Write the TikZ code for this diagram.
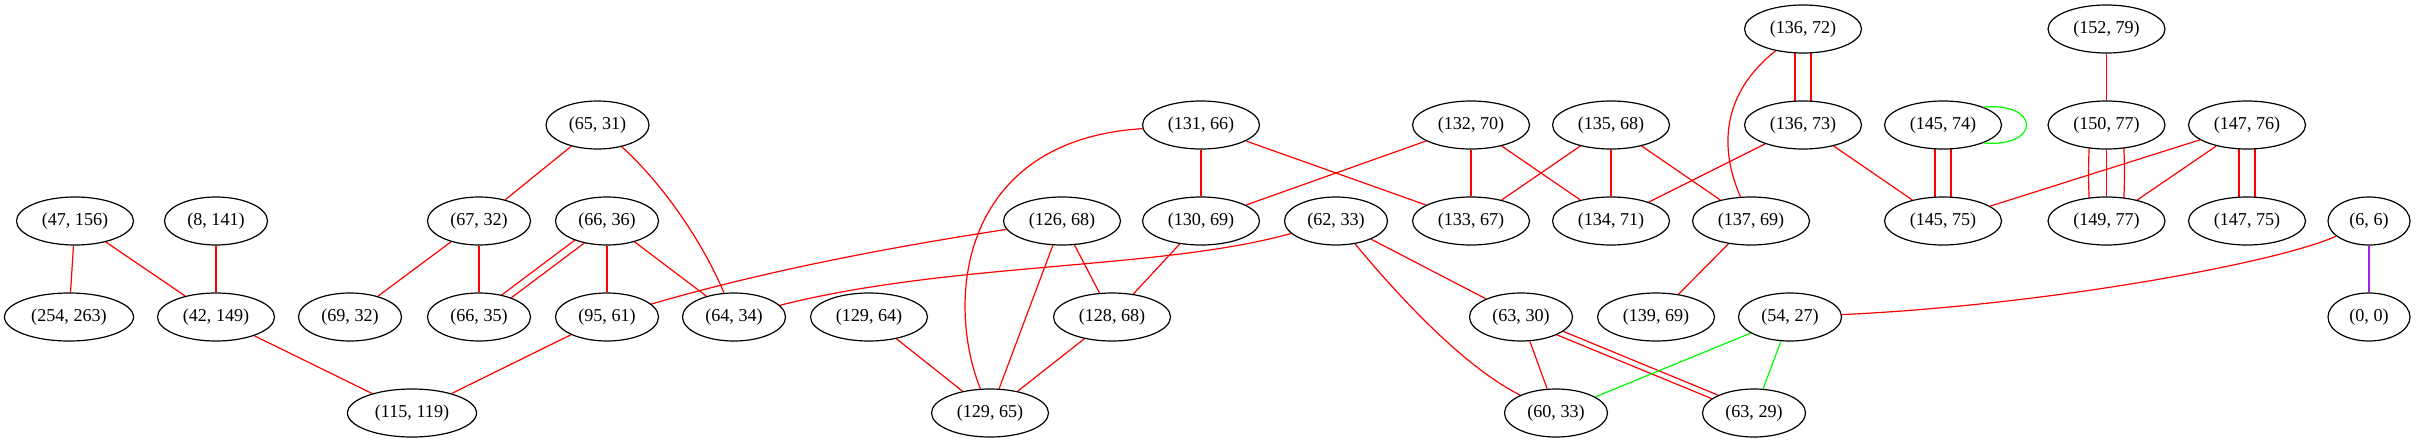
\documentclass[tikz,border=0pt]{standalone}
\usepackage{fontspec}
\setmainfont{Liberation Serif}
\usetikzlibrary{shapes.geometric,backgrounds}
\definecolor{egreen}{RGB}{0,255,0}
\definecolor{epurple}{RGB}{160,32,240}
\begin{document}
\begin{tikzpicture}[x=0.75pt,y=-0.75pt,
  nd/.style={ellipse,draw=black,line width=0.9pt,fill=white,inner sep=0pt,
    minimum height=36pt,minimum width=77.25pt,font=\fontsize{13.6pt}{16pt}\selectfont},
  wA/.style={minimum width=61.5pt},
  wB/.style={minimum width=77.25pt},
  wC/.style={minimum width=87.75pt},
  wD/.style={minimum width=96.75pt},
  ed/.style={draw=red,line width=0.9pt},
  edg/.style={draw=egreen,line width=0.9pt},
  edp/.style={draw=epurple,line width=0.9pt}]
\useasboundingbox (0,0) rectangle (2416,443);
% row 1
\node[nd,wC] (a13672) at (1803,29) {(136, 72)};
\node[nd,wC] (a15279) at (2106.5,29) {(152, 79)};
% row 2
\node[nd,wB] (a6531) at (597.5,125) {(65, 31)};
\node[nd,wC] (a13166) at (1201,125) {(131, 66)};
\node[nd,wC] (a13270) at (1471,125) {(132, 70)};
\node[nd,wC] (a13568) at (1611,125) {(135, 68)};
\node[nd,wC] (a13673) at (1803,125) {(136, 73)};
\node[nd,wC] (a14574) at (1943,125) {(145, 74)};
\node[nd,wC] (a15077) at (2106.5,125) {(150, 77)};
\node[nd,wC] (a14776) at (2247,125) {(147, 76)};
% row 3
\node[nd,wC] (a47156) at (75,221) {(47, 156)};
\node[nd,wB] (a8141) at (216,221) {(8, 141)};
\node[nd,wB] (a6732) at (479,221) {(67, 32)};
\node[nd,wB] (a6636) at (607,221) {(66, 36)};
\node[nd,wC] (a12668) at (1062,221) {(126, 68)};
\node[nd,wC] (a13069) at (1201,221) {(130, 69)};
\node[nd,wB] (a6233) at (1336,221) {(62, 33)};
\node[nd,wC] (a13367) at (1471,221) {(133, 67)};
\node[nd,wC] (a13471) at (1611,221) {(134, 71)};
\node[nd,wC] (a13769) at (1751,221) {(137, 69)};
\node[nd,wC] (a14575) at (1943,221) {(145, 75)};
\node[nd,wC] (a14977) at (2106.5,221) {(149, 77)};
\node[nd,wC] (a14775) at (2247,221) {(147, 75)};
\node[nd,wA] (a66) at (2369,221) {(6, 6)};
% row 4
\node[nd,wD] (a254263) at (69,317) {(254, 263)};
\node[nd,wC] (a42149) at (216,317) {(42, 149)};
\node[nd,wB] (a6932) at (350,317) {(69, 32)};
\node[nd,wB] (a6635) at (479,317) {(66, 35)};
\node[nd,wB] (a9561) at (607,317) {(95, 61)};
\node[nd,wB] (a6434) at (734,317) {(64, 34)};
\node[nd,wC] (a12964) at (869,317) {(129, 64)};
\node[nd,wC] (a12868) at (1112,317) {(128, 68)};
\node[nd,wB] (a6330) at (1521,317) {(63, 30)};
\node[nd,wC] (a13969) at (1656,317) {(139, 69)};
\node[nd,wB] (a5427) at (1790,317) {(54, 27)};
\node[nd,wA] (a00) at (2369,317) {(0, 0)};
% row 5
\node[nd,wD] (a115119) at (412,413) {(115, 119)};
\node[nd,wC] (a12965) at (990,413) {(129, 65)};
\node[nd,wB] (a6033) at (1556,413) {(60, 33)};
\node[nd,wB] (a6329) at (1754,413) {(63, 29)};

\begin{pgfonlayer}{background}
\draw[ed] (a47156) -- (a254263);
\draw[ed] (a47156) -- (a42149);
\draw[ed] (a8141) -- (a42149);
\draw[ed] (a42149) -- (a115119);
\draw[ed] (a9561) -- (a115119);
\draw[ed] (a6531) -- (a6732);
\draw[ed] (a6531) .. controls (662.6,183.5) and (703,242.6) .. (a6434);
\draw[ed] (a6732) -- (a6932);
\draw[ed] (a6732) -- (a6635);
\draw[ed] ([shift={(2.4,3.2)}]a6636.center) -- ([shift={(2.4,3.2)}]a6635.center);
\draw[ed] ([shift={(-2.4,-3.2)}]a6636.center) -- ([shift={(-2.4,-3.2)}]a6635.center);
\draw[ed] (a6636) -- (a9561);
\draw[ed] (a6636) -- (a6434);
\draw[ed] (a9561) .. controls (761,272) and (887,247.5) .. (a12668);
\draw[ed] (a6233) .. controls (1160,270) and (950,262) .. (a6434);
\draw[ed] (a12668) -- (a12965);
\draw[ed] (a12668) -- (a12868);
\draw[ed] (a13069) -- (a12868);
\draw[ed] (a12964) -- (a12965);
\draw[ed] (a12868) -- (a12965);
\draw[ed] (a13166) .. controls (960,140) and (945,300) .. (a12965);
\draw[ed] (a13166) -- (a13069);
\draw[ed] (a13166) -- (a13367);
\draw[ed] (a13270) -- (a13069);
\draw[ed] (a13270) -- (a13367);
\draw[ed] (a13270) -- (a13471);
\draw[ed] (a13568) -- (a13367);
\draw[ed] (a13568) -- (a13471);
\draw[ed] (a13568) -- (a13769);
\draw[ed] (a13673) -- (a13471);
\draw[ed] (a13672) .. controls (1720,95) and (1720,150) .. (a13769);
\draw[ed] ([shift={(-8,0)}]a13672.center) -- ([shift={(-8,0)}]a13673.center);
\draw[ed] ([shift={(8,0)}]a13672.center) -- ([shift={(8,0)}]a13673.center);
\draw[ed] (a13673) -- (a14575);
\draw[ed] ([shift={(-8,0)}]a14574.center) -- ([shift={(-8,0)}]a14575.center);
\draw[ed] ([shift={(8,0)}]a14574.center) -- ([shift={(8,0)}]a14575.center);
\draw[ed] (a15279) -- (a15077);
\draw[ed] (a15077) -- (a14977);
\draw[ed] ([shift={(-16,0)}]a15077.center) to[bend right=4] ([shift={(-16,0)}]a14977.center);
\draw[ed] ([shift={(16,0)}]a15077.center) to[bend left=4] ([shift={(16,0)}]a14977.center);
\draw[ed] (a14776) -- (a14575);
\draw[ed] (a14776) -- (a14977);
\draw[ed] ([shift={(-8,0)}]a14776.center) -- ([shift={(-8,0)}]a14775.center);
\draw[ed] ([shift={(8,0)}]a14776.center) -- ([shift={(8,0)}]a14775.center);
\draw[ed] (a13769) -- (a13969);
\draw[ed] (a6233) -- (a6330);
\draw[ed] (a6233) .. controls (1410,310) and (1470,370) .. (a6033);
\draw[ed] (a6330) -- (a6033);
\draw[ed] ([shift={(1.07,-2.6)}]a6330.center) -- ([shift={(1.07,-2.6)}]a6329.center);
\draw[ed] ([shift={(-1.07,2.6)}]a6330.center) -- ([shift={(-1.07,2.6)}]a6329.center);
\draw[edg] (a5427) -- (a6033);
\draw[edg] (a5427) -- (a6329);
\draw[ed] (a66) .. controls (2280,262) and (2050,305) .. (a5427);
\draw[edp] (a66) -- (a00);
\end{pgfonlayer}
\draw[edg] (a14574.24) .. controls +(57.5,-5) and +(57.5,5) .. (a14574.-24);
\end{tikzpicture}
\end{document}
